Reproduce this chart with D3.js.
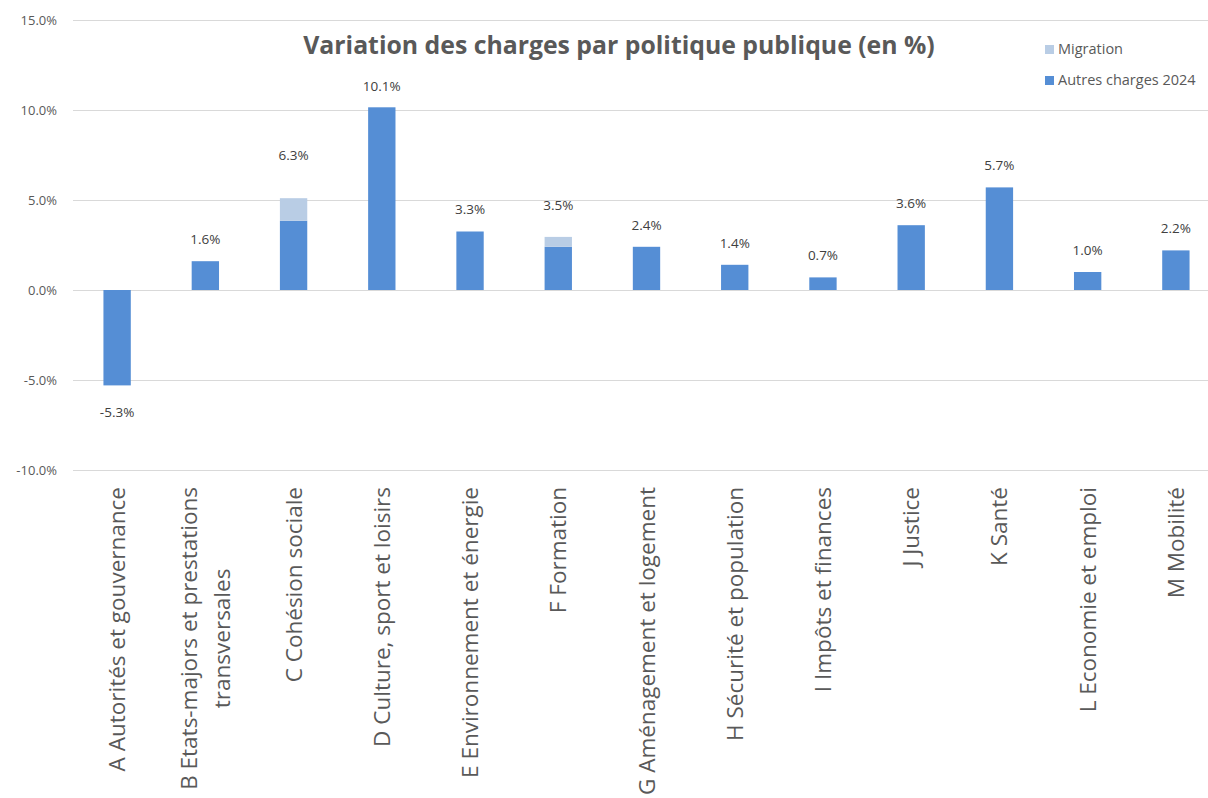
<!DOCTYPE html>
<html lang="fr">
<head>
  <meta charset="UTF-8">
  <title>Variation des charges par politique publique</title>
  <style>
    * { margin: 0; }
    body { background: #fff; font-family: "Open Sans", Lato, sans-serif; }
    svg { display: block; }
    .tick text { fill: #595959; }
  </style>
</head>
<body>
  <div id="chart"></div>
  <script src="https://cdnjs.cloudflare.com/ajax/libs/d3/7.8.5/d3.min.js"></script>
  <script>
    const categories = [
      'A Autorités et gouvernance',
      'B Etats-majors et prestations|transversales',
      'C Cohésion sociale',
      'D Culture, sport et loisirs',
      'E Environnement et énergie',
      'F Formation',
      'G Aménagement et logement',
      'H Sécurité et population',
      'I Impôts et finances',
      'J Justice',
      'K Santé',
      'L Economie et emploi',
      'M Mobilité'
    ];
    // part "Autres charges 2024" et part "Migration" (en %)
    const autres = [-5.3, 1.6, 3.85, 10.15, 3.25, 2.4, 2.4, 1.4, 0.7, 3.6, 5.7, 1.0, 2.2];
    const migration = [0, 0, 1.25, 0, 0, 0.55, 0, 0, 0, 0, 0, 0, 0];
    // étiquettes affichées (total annoncé)
    const totals = [-5.3, 1.6, 6.3, 10.1, 3.3, 3.5, 2.4, 1.4, 0.7, 3.6, 5.7, 1.0, 2.2];
    const yTicks = [-10, -5, 0, 5, 10, 15];
    const seriesNames = ['Migration', 'Autres charges 2024'];
    const colors = { 'Autres charges 2024': '#558ed5', 'Migration': '#b9cde5' };

    const width = 1208, height = 798;
    const svg = d3.select('#chart').append('svg')
      .attr('width', width)
      .attr('height', height);

    const x = d3.scaleBand()
      .domain(categories)
      .range([73, 1220])
      .paddingInner(0.69)
      .paddingOuter(0.345);

    const y = d3.scaleLinear()
      .domain([-10, 15])
      .range([470, 20]);

    const fmt = d => d.toFixed(1) + '%';

    // gridlines + y labels
    const yAxis = svg.append('g')
      .attr('transform', 'translate(73,0)')
      .call(d3.axisLeft(y).tickValues(yTicks).tickSize(-1150).tickFormat(fmt).tickPadding(16));
    yAxis.select('.domain').remove();
    yAxis.selectAll('.tick line').attr('stroke', '#d9d9d9').attr('stroke-width', 1);
    yAxis.selectAll('.tick text').attr('font-size', 13).attr('font-family', '"Open Sans", sans-serif');

    // stacked bars
    const rows = categories.map((c, i) => ({ cat: c, autres: autres[i], migration: migration[i], total: totals[i] }));
    const barG = svg.append('g');
    barG.selectAll('rect.autres')
      .data(rows)
      .join('rect')
      .attr('class', 'autres')
      .attr('x', d => x(d.cat))
      .attr('width', x.bandwidth())
      .attr('y', d => y(Math.max(0, d.autres)))
      .attr('height', d => Math.abs(y(d.autres) - y(0)))
      .attr('fill', colors['Autres charges 2024']);
    barG.selectAll('rect.migration')
      .data(rows.filter(d => d.migration > 0))
      .join('rect')
      .attr('class', 'migration')
      .attr('x', d => x(d.cat))
      .attr('width', x.bandwidth())
      .attr('y', d => y(d.autres + d.migration))
      .attr('height', d => y(d.autres) - y(d.autres + d.migration))
      .attr('fill', colors['Migration']);

    // value labels
    svg.append('g').selectAll('text')
      .data(rows)
      .join('text')
      .attr('x', d => x(d.cat) + x.bandwidth() / 2)
      .attr('y', d => d.total >= 0 ? y(d.total) - 17 : y(d.total) + 32)
      .attr('text-anchor', 'middle')
      .attr('font-size', 13.5)
      .attr('fill', '#404040')
      .text(d => fmt(d.total));

    // category labels (rotated)
    const catG = svg.append('g');
    categories.forEach(c => {
      const lines = c.split('|');
      const cx = x(c) + x.bandwidth() / 2;
      const lh = 33;
      const x0 = cx - (lines.length - 1) * lh / 2;
      const first = catG.append('text')
        .attr('transform', `translate(${x0 + 8},487) rotate(-90)`)
        .attr('text-anchor', 'end')
        .attr('font-size', 22.5)
        .attr('fill', '#595959')
        .text(lines[0]);
      if (lines.length > 1) {
        const len = first.node().getComputedTextLength();
        catG.append('text')
          .attr('transform', `translate(${x0 + lh + 8},${487 + len / 2}) rotate(-90)`)
          .attr('text-anchor', 'middle')
          .attr('font-size', 22.5)
          .attr('fill', '#595959')
          .text(lines[1]);
      }
    });

    // title
    svg.append('text')
      .attr('x', 619)
      .attr('y', 54)
      .attr('text-anchor', 'middle')
      .attr('font-size', 24.8)
      .attr('font-weight', 'bold')
      .attr('fill', '#595959')
      .text('Variation des charges par politique publique (en %)');

    // legend
    const legend = svg.append('g').attr('transform', 'translate(1045,0)');
    seriesNames.forEach((name, i) => {
      const ly = 49 + i * 31;
      legend.append('rect')
        .attr('x', 0).attr('y', ly - 4)
        .attr('width', 9).attr('height', 9)
        .attr('fill', colors[name]);
      legend.append('text')
        .attr('x', 13).attr('y', ly + 5)
        .attr('font-size', 14.5)
        .attr('fill', '#595959')
        .text(name);
    });
  </script>
</body>
</html>
